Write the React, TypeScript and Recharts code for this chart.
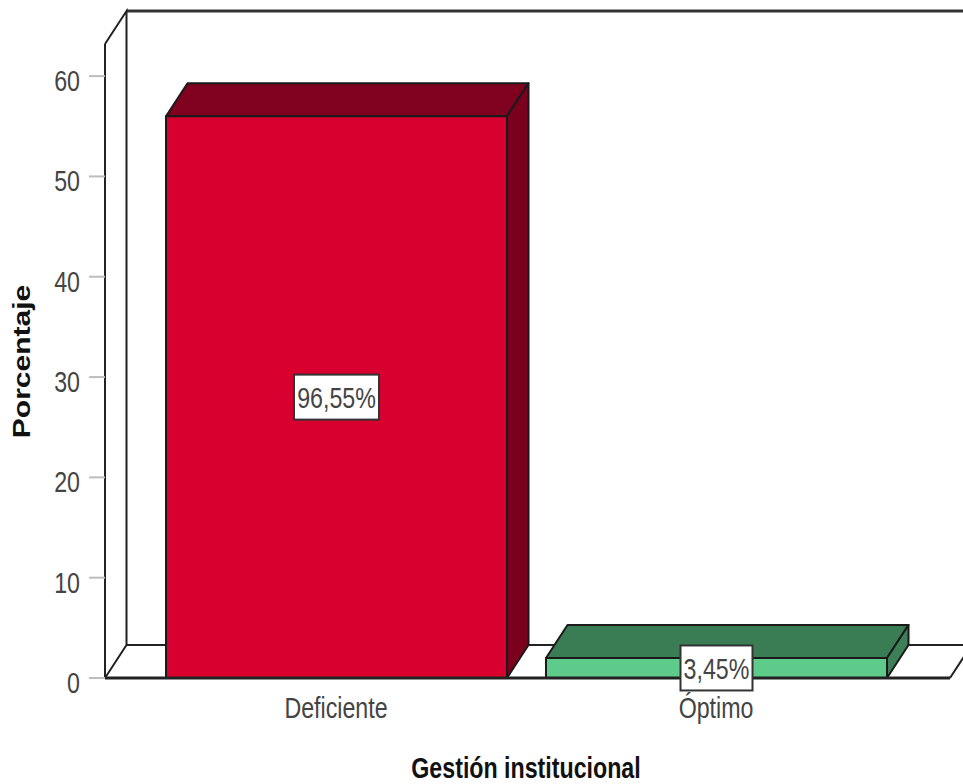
import { BarChart, Bar, XAxis, YAxis, LabelList, Label, Customized, usePlotArea } from "recharts";

const categories = ["Deficiente", "Óptimo"];
const counts = [56, 2];
const percentLabels = ["96,55%", "3,45%"];
const yTicks = [0, 10, 20, 30, 40, 50, 60];
const frontColors = ["#D7002F", "#5ECB8B"];
const topColors = ["#80001F", "#3A7D55"];
const sideColors = ["#7A001E", "#3D8058"];

const chartData = categories.map((name, i) => ({
  name,
  value: counts[i],
  label: percentLabels[i],
}));

// extruded look: how far the back of the box sits from the front
const DEPTH_X = 21.5;
const DEPTH_Y = 33;
const FONT = "'Liberation Sans', Arial, sans-serif";
const TEXT_COLOR = "#444";
const SQUEEZE = 0.8;

// text with the narrow proportions used on every label of the chart
const NarrowText = ({ x, y, children, anchor = "middle", bold = false, rotate = 0, size = 29 }: any) => (
  <text
    transform={`translate(${x},${y}) scale(${SQUEEZE},1) rotate(${rotate})`}
    textAnchor={anchor}
    fontFamily={FONT}
    fontSize={size}
    fontWeight={bold ? 700 : 400}
    fill={bold ? "#111" : TEXT_COLOR}
  >
    {children}
  </text>
);

const Box3D = (props: any) => {
  const { x, y, width, height, index } = props;
  const right = x + width;
  const bottom = y + height;
  const top = `M${x},${y} L${x + DEPTH_X},${y - DEPTH_Y} L${right + DEPTH_X},${y - DEPTH_Y} L${right},${y} Z`;
  const side = `M${right},${y} L${right + DEPTH_X},${y - DEPTH_Y} L${right + DEPTH_X},${bottom - DEPTH_Y} L${right},${bottom} Z`;
  return (
    <g stroke="#1a1a1a" strokeWidth={2} strokeLinejoin="round">
      <path d={top} fill={topColors[index]} />
      <path d={side} fill={sideColors[index]} />
      <rect x={x} y={y} width={width} height={height} fill={frontColors[index]} />
    </g>
  );
};

// back wall and floor of the box behind the bars
const Walls = () => {
  const plot = usePlotArea();
  if (!plot) return null;
  const { x, y, width, height } = plot;
  const bottom = y + height;
  const right = x + width;
  return (
    <g fill="none" stroke="#222">
      <path d={`M${x + DEPTH_X},${y - DEPTH_Y} L${right + DEPTH_X},${y - DEPTH_Y}`} strokeWidth={3} stroke="#333" />
      <path
        d={`M${x},${y} L${x + DEPTH_X},${y - DEPTH_Y} L${x + DEPTH_X},${bottom - DEPTH_Y} L${right + DEPTH_X},${bottom - DEPTH_Y} M${x},${bottom} L${x + DEPTH_X},${bottom - DEPTH_Y} M${right},${bottom} L${right + DEPTH_X},${bottom - DEPTH_Y}`}
        strokeWidth={2}
      />
    </g>
  );
};

const ValueBox = (props: any) => {
  const { x, y, width, height, value } = props;
  const cx = x + width / 2;
  const cy = y + height / 2;
  const boxW = String(value).length * 13 + 7;
  const boxH = 45;
  return (
    <g>
      <rect x={cx - boxW / 2} y={cy - boxH / 2} width={boxW} height={boxH} fill="#fff" stroke="#333" strokeWidth={2} />
      <NarrowText x={cx} y={cy + 11}>{value}</NarrowText>
    </g>
  );
};

const CategoryTick = ({ x, payload }: any) => <NarrowText x={x} y={718}>{payload.value}</NarrowText>;

const ValueTick = ({ y, payload }: any) => (
  <NarrowText x={80} y={y + 15} anchor="end">{payload.value}</NarrowText>
);

const App = () => (
  <div style={{ position: "absolute", left: 0, top: 0, width: 963, height: 784, overflow: "hidden", background: "#fff" }}>
    <BarChart
      width={963}
      height={784}
      data={chartData}
      margin={{ top: 44, right: 13, bottom: 0, left: 0 }}
      barSize={341}
    >
      <Customized component={Walls} />
      <XAxis
        dataKey="name"
        height={106}
        padding={{ left: 41, right: 44 }}
        tickLine={false}
        axisLine={{ stroke: "#222", strokeWidth: 3 }}
        tick={<CategoryTick />}
      >
        <Label
          content={() => <NarrowText x={526} y={778} bold>Gestión institucional</NarrowText>}
        />
      </XAxis>
      <YAxis
        width={105}
        domain={[0, 63.2]}
        ticks={yTicks}
        tickSize={16}
        tickLine={{ stroke: "#bdbdbd", strokeWidth: 2 }}
        axisLine={{ stroke: "#222", strokeWidth: 2 }}
        tick={<ValueTick />}
      >
        <Label
          content={() => <NarrowText x={30} y={361.5} bold rotate={-90} size={30}>Porcentaje</NarrowText>}
        />
      </YAxis>
      <Bar dataKey="value" shape={<Box3D />} isAnimationActive={false}>
        <LabelList dataKey="label" content={<ValueBox />} />
      </Bar>
    </BarChart>
  </div>
);

export default App;
